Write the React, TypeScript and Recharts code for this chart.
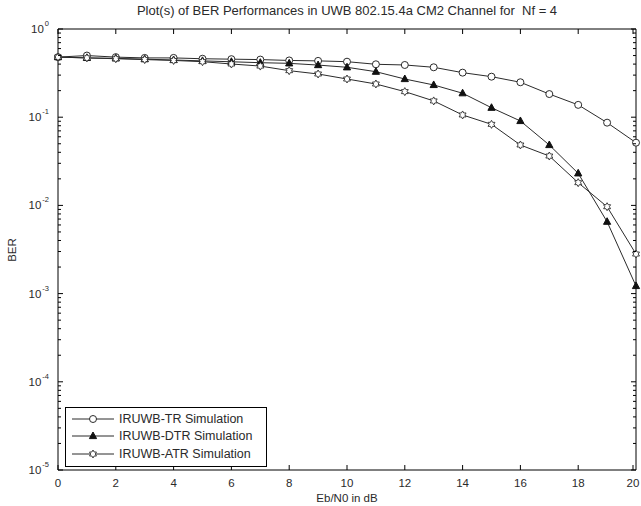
import { Line, LineChart, XAxis, YAxis } from 'recharts';

// Eb/N0 in dB
const snr = [0, 1, 2, 3, 4, 5, 6, 7, 8, 9, 10, 11, 12, 13, 14, 15, 16, 17, 18, 19, 20];

const trBer = [
  0.48, 0.5, 0.48, 0.47, 0.47, 0.46, 0.455, 0.45, 0.44, 0.435, 0.426, 0.398, 0.391, 0.368, 0.32,
  0.288, 0.249, 0.183, 0.138, 0.0867, 0.0514,
];
const dtrBer = [
  0.48, 0.47, 0.465, 0.455, 0.445, 0.435, 0.425, 0.415, 0.408, 0.39, 0.368, 0.328, 0.271, 0.232,
  0.187, 0.128, 0.0906, 0.0484, 0.0231, 0.00653, 0.00122,
];
const atrBer = [
  0.48, 0.47, 0.46, 0.45, 0.44, 0.426, 0.401, 0.38, 0.337, 0.309, 0.271, 0.238, 0.195, 0.153,
  0.106, 0.083, 0.0484, 0.0363, 0.0181, 0.00966, 0.00281,
];

const xTicks = [0, 2, 4, 6, 8, 10, 12, 14, 16, 18, 20];
const decades = [-5, -4, -3, -2, -1, 0];
const minorSteps = [2, 3, 4, 5, 6, 7, 8, 9];

const yTicks = decades.flatMap((d) =>
  d === 0 ? [1] : [Math.pow(10, d), ...minorSteps.map((m) => m * Math.pow(10, d))],
);

const data = snr.map((x, i) => ({ x, tr: trBer[i], dtr: dtrBer[i], atr: atrBer[i] }));

const FONT = 'Liberation Sans, Arial, sans-serif';
const TEXT = '#2a2a2a';
const LINE = '#2b2b2b';

const isMajor = (v: number) => Math.abs(Math.log10(v) - Math.round(Math.log10(v))) < 1e-6;

const LeftTick = ({ x, y, payload }: any) => {
  const v = payload.value as number;
  const major = isMajor(v);
  const exp = Math.round(Math.log10(v));
  return (
    <g>
      <line x1={x} x2={x + (major ? 5 : 3)} y1={y} y2={y} stroke="#000" />
      {major && (
        <text x={x - 9} y={y + 4} textAnchor="end" fontSize={11.5} fill={TEXT} fontFamily={FONT}>
          10
          <tspan dx={1} dy={-7} fontSize={7.5}>
            {exp}
          </tspan>
        </text>
      )}
    </g>
  );
};

const RightTick = ({ x, y, payload }: any) => {
  const major = isMajor(payload.value);
  return <line x1={x} x2={x - (major ? 5 : 3)} y1={y} y2={y} stroke="#000" />;
};

const BottomTick = ({ x, y, payload }: any) => (
  <g>
    <line x1={x} x2={x} y1={y} y2={y - 5} stroke="#000" />
    <text x={x} y={y + 17} textAnchor="middle" fontSize={11.5} fill={TEXT} fontFamily={FONT}>
      {payload.value}
    </text>
  </g>
);

const TopTick = ({ x, y }: any) => <line x1={x} x2={x} y1={y} y2={y + 5} stroke="#000" />;

const Circle = ({ cx, cy }: { cx: number; cy: number }) => (
  <circle cx={cx} cy={cy} r={3.5} fill="#fff" stroke={LINE} strokeWidth={1} />
);

const Triangle = ({ cx, cy }: { cx: number; cy: number }) => (
  <polygon
    points={`${cx},${cy - 4} ${cx - 3.6},${cy + 2.6} ${cx + 3.6},${cy + 2.6}`}
    fill="#111"
    stroke="#111"
  />
);

const Hexagram = ({ cx, cy }: { cx: number; cy: number }) => {
  const pts = Array.from({ length: 12 }, (_, k) => {
    const r = k % 2 === 0 ? 4 : 2.3;
    const a = (Math.PI / 6) * k - Math.PI / 2;
    return `${cx + r * Math.cos(a)},${cy + r * Math.sin(a)}`;
  }).join(' ');
  return <polygon points={pts} fill="#fff" stroke={LINE} strokeWidth={0.9} />;
};

const markers: Record<string, (p: { cx: number; cy: number }) => JSX.Element> = {
  tr: Circle,
  dtr: Triangle,
  atr: Hexagram,
};

const legendRows = [
  { key: 'tr', label: 'IRUWB-TR Simulation' },
  { key: 'dtr', label: 'IRUWB-DTR Simulation' },
  { key: 'atr', label: 'IRUWB-ATR Simulation' },
];

// matlab style legend box, sits inside the axes at the lower left
const LegendBox = () => (
  <div
    style={{
      position: 'absolute',
      left: 65,
      top: 407,
      width: 188,
      border: '1px solid #000',
      background: '#fff',
      padding: '2px 6px 3px 6px',
      fontFamily: FONT,
      fontSize: 12.5,
      color: TEXT,
      whiteSpace: 'nowrap',
    }}
  >
    {legendRows.map((row) => {
      const Marker = markers[row.key];
      return (
        <div key={row.key} style={{ display: 'flex', alignItems: 'center', height: 17.5 }}>
          <svg width={42} height={12} style={{ marginRight: 5 }}>
            <line x1={0} x2={42} y1={6} y2={6} stroke={LINE} />
            <Marker cx={21} cy={6} />
          </svg>
          <span>{row.label}</span>
        </div>
      );
    })}
  </div>
);

const dotFor = (key: string) => (p: any) => {
  const Marker = markers[key];
  return (
    <g key={`${key}-${p.index}`}>
      <Marker cx={p.cx} cy={p.cy} />
    </g>
  );
};

export default function App() {
  return (
    <div style={{ position: 'absolute', left: 0, top: 0, width: 641, height: 506, background: '#fff' }}>
      <div
        style={{
          position: 'absolute',
          left: 40,
          width: 614,
          top: 3,
          textAlign: 'center',
          fontFamily: FONT,
          fontSize: 13,
          color: TEXT,
          whiteSpace: 'nowrap',
        }}
      >
        Plot(s) of BER Performances in UWB 802.15.4a CM2 Channel for&nbsp; Nf = 4
      </div>
      <div
        style={{
          position: 'absolute',
          left: 12,
          top: 250,
          transform: 'translate(-50%, -50%) rotate(-90deg)',
          fontFamily: FONT,
          fontSize: 11.5,
          color: TEXT,
        }}
      >
        BER
      </div>
      <LineChart width={641} height={506} data={data} margin={{ top: 28, right: 0, bottom: 0, left: 0 }}>
        <XAxis
          xAxisId="b"
          dataKey="x"
          type="number"
          domain={[0, 20]}
          ticks={xTicks}
          tickLine={false}
          tickSize={0}
          tickMargin={0}
          tick={<BottomTick />}
          axisLine={{ stroke: '#000' }}
          height={36}
          label={{
            value: 'Eb/N0 in dB',
            position: 'insideBottom',
            offset: 4,
            fontSize: 11.5,
            fill: TEXT,
            fontFamily: FONT,
          }}
        />
        <XAxis
          xAxisId="t"
          orientation="top"
          type="number"
          dataKey="x"
          domain={[0, 20]}
          ticks={xTicks}
          tickLine={false}
          tickSize={0}
          tickMargin={0}
          tick={<TopTick />}
          axisLine={{ stroke: '#000' }}
          height={1}
        />
        <YAxis
          yAxisId="l"
          scale="log"
          type="number"
          domain={[1e-5, 1]}
          allowDataOverflow
          ticks={yTicks}
          interval={0}
          tickLine={false}
          tickSize={0}
          tickMargin={0}
          tick={<LeftTick />}
          axisLine={{ stroke: '#000' }}
          width={58}
        />
        <YAxis
          yAxisId="r"
          orientation="right"
          scale="log"
          type="number"
          domain={[1e-5, 1]}
          allowDataOverflow
          ticks={yTicks}
          interval={0}
          tickLine={false}
          tickSize={0}
          tickMargin={0}
          tick={<RightTick />}
          axisLine={{ stroke: '#000' }}
          width={5}
        />
        {legendRows.map((row) => (
          <Line
            key={row.key}
            xAxisId="b"
            yAxisId="l"
            dataKey={row.key}
            stroke={LINE}
            strokeWidth={1}
            dot={dotFor(row.key)}
            isAnimationActive={false}
          />
        ))}
      </LineChart>
      <LegendBox />
    </div>
  );
}
